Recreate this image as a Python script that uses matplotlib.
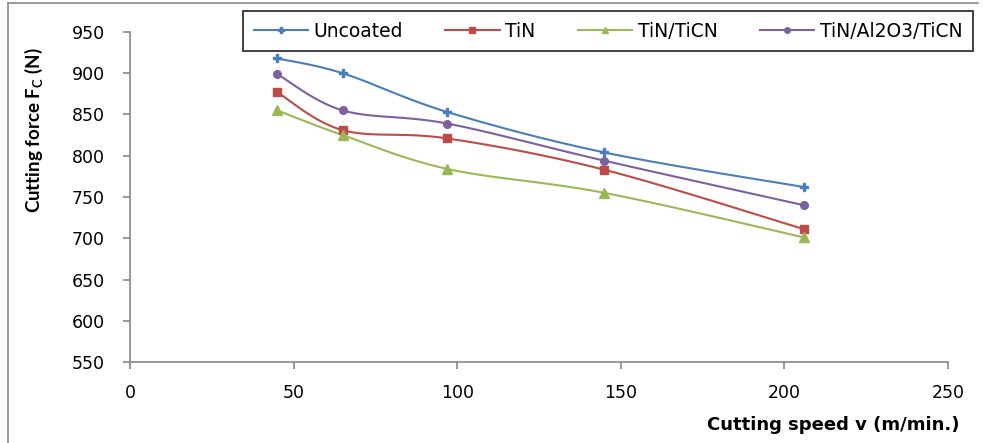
import numpy as np
import matplotlib.pyplot as plt
from matplotlib.lines import Line2D

speed = [45, 65, 97, 145, 206]
uncoated = [918, 900, 853, 804, 762]
tin = [877, 831, 821, 783, 711]
tin_ticn = [855, 825, 784, 755, 701]
tin_al2o3_ticn = [899, 855, 839, 794, 740]

labels = ["Uncoated", "TiN", "TiN/TiCN", "TiN/Al2O3/TiCN"]
colors = ["#4A7EBB", "#BE4B48", "#98B954", "#7D60A0"]
markers = ["P", "s", "^", "o"]
msizes = [6, 5.5, 6.5, 5.5]


def smooth(x, y, n=30):
    # excel-style smoothed line: cubic bezier through every point
    x = np.asarray(x, float)
    y = np.asarray(y, float)
    px = np.concatenate([[x[0]], x, [x[-1]]])
    py = np.concatenate([[y[0]], y, [y[-1]]])
    t = np.linspace(0, 1, n)[:, None]
    xs, ys = [], []
    for i in range(len(x) - 1):
        p0 = np.array([px[i + 1], py[i + 1]])
        p3 = np.array([px[i + 2], py[i + 2]])
        c1 = p0 + (p3 - np.array([px[i], py[i]])) / 6
        c2 = p3 - (np.array([px[i + 3], py[i + 3]]) - p0) / 6
        b = ((1 - t) ** 3) * p0 + 3 * ((1 - t) ** 2) * t * c1 + 3 * (1 - t) * t ** 2 * c2 + t ** 3 * p3
        xs.append(b[:, 0])
        ys.append(b[:, 1])
    return np.concatenate(xs), np.concatenate(ys)


fig = plt.figure(figsize=(9.87, 4.43), dpi=100)
ax = fig.add_axes([0.1317, 0.1828, 0.8288, 0.745])

series = [uncoated, tin, tin_ticn, tin_al2o3_ticn]
handles = []
for vals, lab, c, m, ms in zip(series, labels, colors, markers, msizes):
    sx, sy = smooth(speed, vals)
    ax.plot(sx, sy, color=c, lw=1.5, zorder=2)
    ax.plot(speed, vals, ls="none", marker=m, ms=ms, color=c, zorder=3)
    handles.append(Line2D([], [], color=c, lw=1.5, marker=m, ms=4))

ax.set_xlim(0, 250)
ax.set_ylim(550, 950)
ax.set_xticks(range(0, 251, 50))
ax.set_yticks(range(550, 951, 50))

for s in ["top", "right"]:
    ax.spines[s].set_visible(False)
for s in ["left", "bottom"]:
    ax.spines[s].set_color("#868686")
    ax.spines[s].set_linewidth(1.2)
ax.tick_params(direction="out", length=5, width=1.2, color="#868686",
               labelsize=12.5)
ax.tick_params(axis="y", pad=13)
ax.tick_params(axis="x", pad=11)

fig.text(0.972, 0.04, "Cutting speed v (m/min.)", ha="right", va="center",
         fontsize=13, fontweight="bold", family="DejaVu Sans")
fig.text(0.034, 0.707, r"Cutting force F$_\mathregular{C}$ (N)", rotation=90,
         ha="center", va="center", fontsize=13.5, fontweight="bold", family="Lato")

leg = fig.legend(handles, labels, ncol=4,
                 bbox_to_anchor=(0.616, 0.93), loc="center",
                 frameon=True, fancybox=False, fontsize=13.5, handlelength=2.9,
                 handletextpad=0.3, columnspacing=2.25, borderpad=0.55,
                 borderaxespad=0)
leg.get_frame().set_edgecolor("black")
leg.get_frame().set_linewidth(1.3)

# outer chart border
fig.add_artist(Line2D([0.008, 0.008], [0, 0.993], transform=fig.transFigure,
                      color="#8a8a8a", lw=1.2))
fig.add_artist(Line2D([0.008, 0.991], [0.993, 0.993], transform=fig.transFigure,
                      color="#8a8a8a", lw=1.2))

fig.savefig("out.png", dpi=100)
